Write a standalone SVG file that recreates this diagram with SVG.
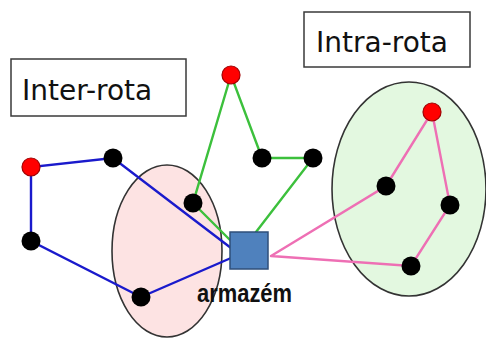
<svg xmlns="http://www.w3.org/2000/svg" width="486" height="338" viewBox="0 0 486 338">
  <style>
    .label-box { fill: #ffffff; stroke: #3a3a3a; stroke-width: 1.5; }
    .label { font-family: "DejaVu Sans", Verdana, sans-serif; font-size: 28px; fill: #111111; }
    .cluster { stroke: #333333; stroke-width: 1.6; }
    .edge { fill: none; stroke-width: 2.4; stroke-linecap: round; }
    .blue { stroke: #1a1acc; }
    .green { stroke: #3cc03c; }
    .pink { stroke: #ee6fb4; }
    .stop { fill: #000000; }
    .depot-start { fill: #ff0000; stroke: #a00000; stroke-width: 1.2; }
    .depot { fill: #4f81bd; stroke: #2f4f7a; stroke-width: 1.5; }
    .depot-label { font-family: "Liberation Sans", Arial, sans-serif; font-weight: bold; font-size: 26px; fill: #111111; }
  </style>

  <!-- customer clusters -->
  <g id="cluster-inter">
    <ellipse class="cluster" cx="167" cy="251" rx="55" ry="86" fill="#fde3e3"/>
  </g>
  <g id="cluster-intra">
    <ellipse class="cluster" cx="409" cy="189" rx="77" ry="107" fill="#e3f8e0"/>
  </g>

  <!-- titles -->
  <g id="title-inter">
    <rect class="label-box" x="11" y="59" width="175" height="57"/>
    <text class="label" x="22" y="100">Inter-rota</text>
  </g>
  <g id="title-intra">
    <rect class="label-box" x="304" y="12" width="166" height="55"/>
    <text class="label" x="316" y="52">Intra-rota</text>
  </g>

  <!-- routes -->
  <g id="connectors">
    <polyline class="edge blue" points="231,248 113,158 31,167 31,241 141,297 231,258"/>
    <polyline class="edge green" points="231,241 193,203 231,75 262,158 313,158 256,232"/>
    <polyline class="edge pink" points="271,256 386,186 432,112 450,205 411,266 271,256"/>
  </g>

  <!-- stops -->
  <g id="n-blue-start"><circle class="depot-start" cx="31" cy="167" r="9"/></g>
  <g id="n-blue-1"><circle class="stop" cx="113" cy="158" r="9.5"/></g>
  <g id="n-blue-2"><circle class="stop" cx="31" cy="241" r="9.5"/></g>
  <g id="n-blue-3"><circle class="stop" cx="141" cy="297" r="9.5"/></g>
  <g id="n-green-start"><circle class="depot-start" cx="231" cy="75" r="9"/></g>
  <g id="n-green-1"><circle class="stop" cx="193" cy="203" r="9.5"/></g>
  <g id="n-green-2"><circle class="stop" cx="262" cy="158" r="9.5"/></g>
  <g id="n-green-3"><circle class="stop" cx="313" cy="158" r="9.5"/></g>
  <g id="n-pink-start"><circle class="depot-start" cx="432" cy="112" r="9"/></g>
  <g id="n-pink-1"><circle class="stop" cx="386" cy="186" r="9.5"/></g>
  <g id="n-pink-2"><circle class="stop" cx="450" cy="205" r="9.5"/></g>
  <g id="n-pink-3"><circle class="stop" cx="411" cy="266" r="9.5"/></g>

  <!-- warehouse -->
  <g id="armazem">
    <rect class="depot" x="230" y="232" width="38" height="37"/>
    <text class="depot-label" x="197" y="302" textLength="95" lengthAdjust="spacingAndGlyphs">armazém</text>
  </g>
</svg>
